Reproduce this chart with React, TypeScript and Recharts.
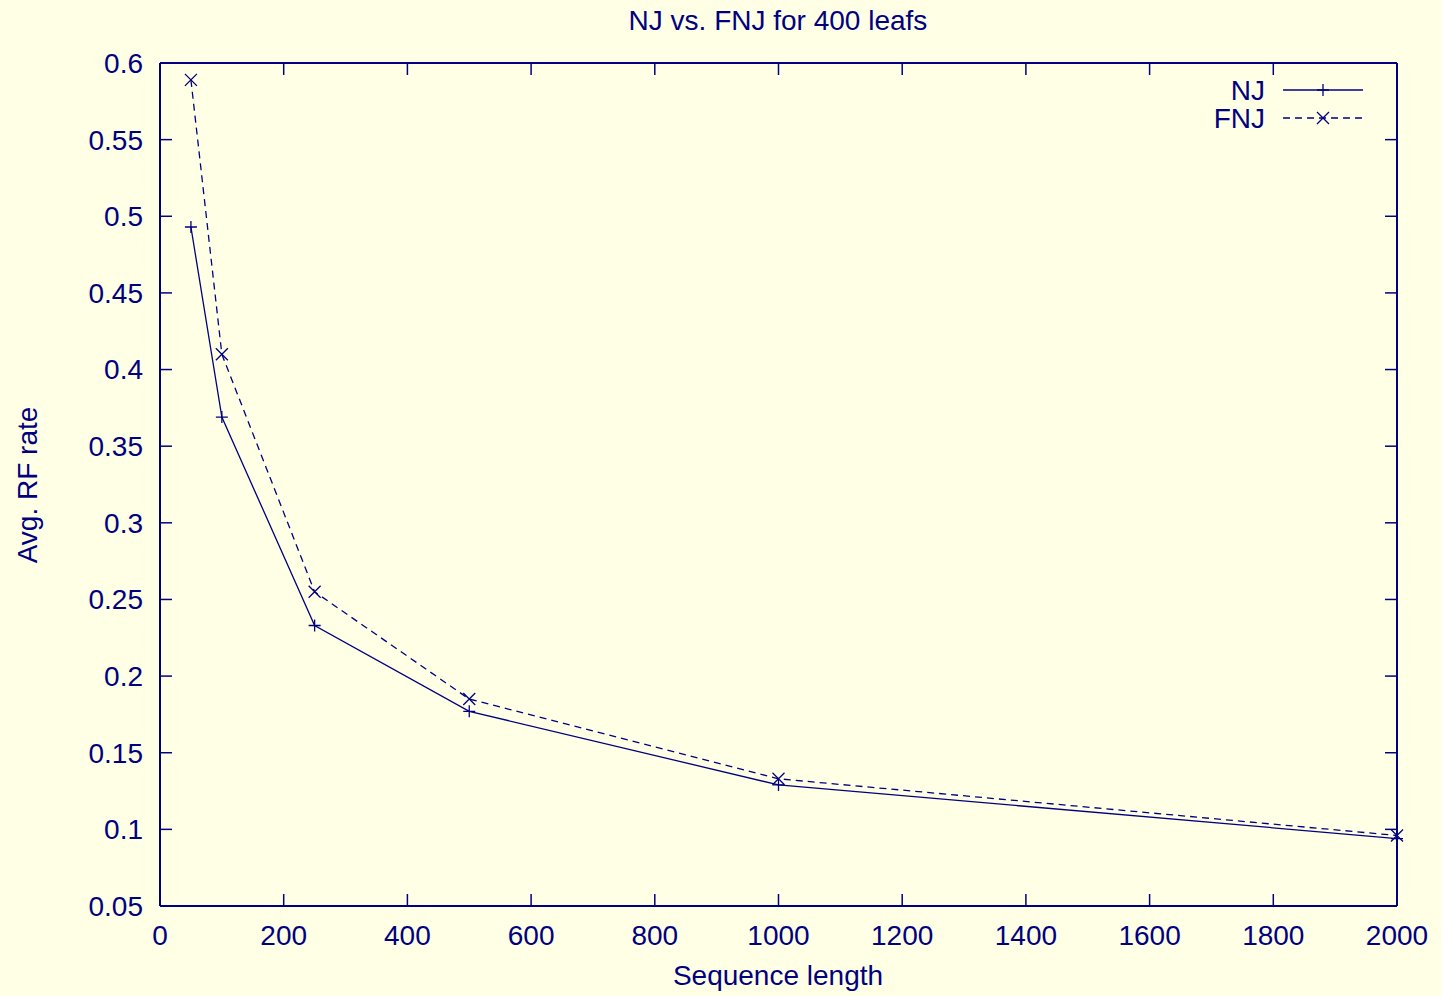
import React from 'react';
import { LineChart, Line, XAxis, YAxis } from 'recharts';

const xValues = [50, 100, 250, 500, 1000, 2000];
const njValues = [0.493, 0.369, 0.233, 0.177, 0.129, 0.094];
const fnjValues = [0.589, 0.41, 0.255, 0.185, 0.133, 0.096];
const xTicks = [0, 200, 400, 600, 800, 1000, 1200, 1400, 1600, 1800, 2000];
const yTicks = [0.05, 0.1, 0.15, 0.2, 0.25, 0.3, 0.35, 0.4, 0.45, 0.5, 0.55, 0.6];
const seriesNames = ['NJ', 'FNJ'];
const titleText = 'NJ vs. FNJ for 400 leafs';
const xLabel = 'Sequence length';
const yLabel = 'Avg. RF rate';

const data = xValues.map((x, i) => ({ x, nj: njValues[i], fnj: fnjValues[i] }));

const NAVY = '#000080';
const BG = '#ffffe6';
const FONT = '"Liberation Sans", Arial, Helvetica, sans-serif';
const FS = 28;

const PlusDot = (props: any) => {
  const { cx, cy, index } = props;
  if (cx == null || cy == null) return <g key={`p${index}`} />;
  return (
    <path
      key={`p${index}`}
      d={`M${cx - 6},${cy}H${cx + 6}M${cx},${cy - 6}V${cy + 6}`}
      stroke={NAVY}
      strokeWidth={1.3}
      fill="none"
    />
  );
};

const CrossDot = (props: any) => {
  const { cx, cy, index } = props;
  if (cx == null || cy == null) return <g key={`c${index}`} />;
  return (
    <path
      key={`c${index}`}
      d={`M${cx - 6},${cy - 6}L${cx + 6},${cy + 6}M${cx - 6},${cy + 6}L${cx + 6},${cy - 6}`}
      stroke={NAVY}
      strokeWidth={1.3}
      fill="none"
    />
  );
};

const tickStyle = { fill: NAVY, fontSize: FS, fontFamily: FONT };
const axisLineStyle = { stroke: NAVY, strokeWidth: 2 };
const tickLineStyle = { stroke: NAVY, strokeWidth: 1.5 };
const blank = () => '';

export default function App() {
  return (
    <div
      style={{
        position: 'absolute',
        left: 0,
        top: 0,
        width: 1441,
        height: 996,
        background: BG,
        fontFamily: FONT,
        color: NAVY,
        overflow: 'hidden',
      }}
    >
      <LineChart
        width={1441}
        height={996}
        data={data}
        margin={{ top: 62, right: 43, bottom: 60, left: 100 }}
      >
        <XAxis
          dataKey="x"
          type="number"
          domain={[0, 2000]}
          ticks={xTicks}
          height={30}
          tickSize={-12}
          tickMargin={31}
          axisLine={axisLineStyle}
          tickLine={tickLineStyle}
          tick={tickStyle}
          interval={0}
        />
        <XAxis
          xAxisId="top"
          orientation="top"
          dataKey="x"
          type="number"
          domain={[0, 2000]}
          ticks={xTicks}
          height={1}
          tickSize={-12}
          tickMargin={0}
          axisLine={axisLineStyle}
          tickLine={tickLineStyle}
          tick={tickStyle}
          tickFormatter={blank}
          interval={0}
        />
        <YAxis
          type="number"
          domain={[0.05, 0.6]}
          ticks={yTicks}
          width={60}
          tickSize={-12}
          tickMargin={29}
          axisLine={axisLineStyle}
          tickLine={tickLineStyle}
          tick={tickStyle}
          interval={0}
          allowDataOverflow
        />
        <YAxis
          yAxisId="right"
          orientation="right"
          type="number"
          domain={[0.05, 0.6]}
          ticks={yTicks}
          width={1}
          tickSize={-12}
          tickMargin={0}
          axisLine={axisLineStyle}
          tickLine={tickLineStyle}
          tick={tickStyle}
          tickFormatter={blank}
          interval={0}
          allowDataOverflow
        />
        <Line
          dataKey="nj"
          name={seriesNames[0]}
          stroke={NAVY}
          strokeWidth={1.3}
          dot={(p: any) => <PlusDot key={`pd${p.index}`} {...p} />}
          activeDot={false}
          isAnimationActive={false}
          type="linear"
        />
        <Line
          dataKey="fnj"
          name={seriesNames[1]}
          stroke={NAVY}
          strokeWidth={1.3}
          strokeDasharray="7 5"
          dot={(p: any) => <CrossDot key={`cd${p.index}`} {...p} />}
          activeDot={false}
          isAnimationActive={false}
          type="linear"
        />
      </LineChart>

      <div
        style={{
          position: 'absolute',
          left: 378,
          width: 800,
          top: 0,
          height: 42,
          lineHeight: '42px',
          textAlign: 'center',
          fontSize: FS,
          whiteSpace: 'nowrap',
        }}
      >
        {titleText}
      </div>
      <div
        style={{
          position: 'absolute',
          left: 378,
          width: 800,
          top: 956,
          height: 40,
          lineHeight: '40px',
          textAlign: 'center',
          fontSize: FS,
          whiteSpace: 'nowrap',
        }}
      >
        {xLabel}
      </div>
      <div
        style={{
          position: 'absolute',
          left: 28 - 200,
          top: 485 - 20,
          width: 400,
          height: 40,
          lineHeight: '40px',
          textAlign: 'center',
          fontSize: FS,
          whiteSpace: 'nowrap',
          transform: 'rotate(-90deg)',
        }}
      >
        {yLabel}
      </div>

      <svg
        style={{ position: 'absolute', left: 1180, top: 70, overflow: 'visible' }}
        width={200}
        height={70}
      >
        <text x={85} y={20} textAnchor="end" dominantBaseline="central" fill={NAVY} fontSize={FS} fontFamily={FONT}>
          {seriesNames[0]}
        </text>
        <line x1={103} x2={183} y1={20} y2={20} stroke={NAVY} strokeWidth={1.3} />
        <path d={`M137,20H149M143,14V26`} stroke={NAVY} strokeWidth={1.3} />
        <text x={85} y={48} textAnchor="end" dominantBaseline="central" fill={NAVY} fontSize={FS} fontFamily={FONT}>
          {seriesNames[1]}
        </text>
        <line x1={103} x2={183} y1={48} y2={48} stroke={NAVY} strokeWidth={1.3} strokeDasharray="7 5" />
        <path d={`M137,42L149,54M137,54L149,42`} stroke={NAVY} strokeWidth={1.3} />
      </svg>
    </div>
  );
}
